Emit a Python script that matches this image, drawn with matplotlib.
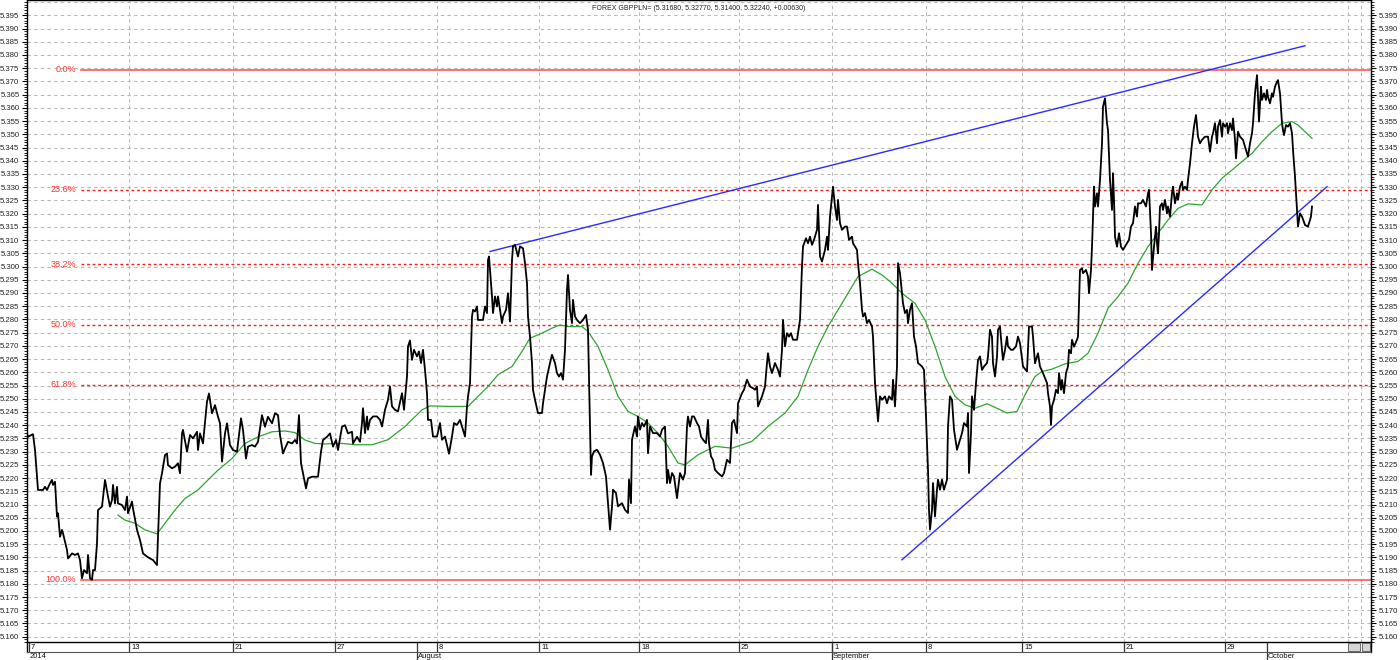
#!/usr/bin/env python3

import matplotlib
matplotlib.use('Agg')
from matplotlib import pyplot
from matplotlib.patches import Rectangle
import numpy as np

pyplot.rcParams['font.family'] = ['Liberation Sans', 'DejaVu Sans']

#### Chart data (bar index, price)

title = 'FOREX GBPPLN= (5.31680, 5.32770, 5.31400, 5.32240, +0.00630)'

price_bar = [
    -1, 0, 5, 7, 10, 15, 17, 19, 22, 24, 25, 27, 29, 30, 32, 34, 35, 39, 40, 44, 47, 50, 52, 54, 56, 59,
    60, 62, 64, 65, 67, 69, 70, 74, 77, 80, 82, 84, 85, 87, 89, 90, 94, 97, 99, 100, 104, 105, 109, 110,
    112, 115, 119, 122, 125, 129, 130, 132, 134, 137, 139, 140, 144, 147, 150, 152, 154, 155, 159, 162,
    165, 169, 170, 172, 175, 179, 181, 184, 187, 190, 192, 194, 197, 199, 202, 205, 209, 210, 213, 215,
    218, 220, 224, 227, 230, 234, 237, 240, 244, 247, 250, 252, 255, 257, 260, 264, 267, 269, 271, 273,
    275, 278, 280, 284, 287, 290, 293, 295, 299, 302, 305, 308, 310, 314, 317, 320, 324, 325, 329, 332,
    334, 335, 337, 339, 340, 342, 345, 349, 352, 354, 357, 360, 362, 364, 367, 370, 374, 376, 379, 380,
    382, 384, 386, 389, 391, 393, 395, 397, 399, 400, 403, 405, 409, 412, 414, 417, 420, 421, 424, 426,
    429, 432, 434, 437, 439, 440, 442, 444, 445, 447, 449, 450, 455, 457, 459, 460, 461, 464, 465, 467,
    469, 470, 472, 474, 475, 478, 480, 482, 484, 485, 487, 490, 492, 495, 497, 499, 500, 502, 504, 505,
    507, 510, 514, 515, 519, 522, 524, 527, 529, 531, 533, 535, 537, 539, 540, 542, 544, 545, 547, 549,
    552, 555, 558, 560, 563, 564, 566, 569, 572, 575, 578, 580, 582, 584, 585, 588, 590, 594, 597, 600,
    601, 603, 604, 607, 609, 610, 612, 614, 616, 619, 620, 622, 625, 629, 632, 634, 637, 639, 640, 642,
    644, 646, 649, 652, 655, 657, 659, 660, 662, 664, 666, 669, 671, 673, 675, 678, 680, 681, 683, 685,
    687, 690, 694, 696, 699, 702, 704, 706, 709, 710, 714, 716, 719, 722, 725, 727, 729, 730, 734, 737,
    739, 740, 742, 744, 747, 750, 752, 754, 755, 757, 759, 761, 763, 765, 769, 772, 774, 775, 778, 780,
    782, 784, 786, 789, 790, 792, 794, 797, 799, 800, 802, 804, 805, 807, 809, 810, 812, 814, 817, 819,
    821, 824, 825, 829, 830, 832, 834, 835, 837, 839, 841, 844, 845, 847, 848, 850, 852, 854, 857, 859,
    861, 864, 865, 867, 869, 870, 872, 874, 875, 877, 879, 880, 882, 884, 886, 888, 890, 894, 896, 898,
    900, 901, 902, 904, 905, 907, 909, 910, 912, 914, 916, 919, 920, 922, 924, 926, 929, 931, 934, 936,
    939, 940, 941, 943, 944, 946, 948, 950, 952, 954, 956, 959, 960, 962, 964, 965, 967, 969, 970, 972,
    974, 975, 977, 979, 980, 983, 985, 988, 990, 992, 995, 999, 1001, 1004, 1005, 1007, 1010, 1012, 1015,
    1019, 1020, 1022, 1023, 1024, 1026, 1028, 1030, 1031, 1033, 1034, 1036, 1038, 1040, 1041, 1043, 1044,
    1046, 1049, 1050, 1052, 1054, 1055, 1058, 1060, 1061, 1063, 1064, 1066, 1067, 1069, 1070, 1072, 1074,
    1075, 1077, 1079, 1080, 1082, 1084, 1085, 1086, 1087, 1089, 1091, 1093, 1095, 1099, 1101, 1103, 1105,
    1107, 1109, 1110, 1113, 1115, 1118, 1120, 1121, 1123, 1124, 1126, 1128, 1129, 1130, 1131, 1132, 1134,
    1135, 1137, 1139, 1140, 1142, 1144, 1145, 1147, 1149, 1150, 1152, 1154, 1155, 1157, 1159, 1160, 1162,
    1164, 1166, 1168, 1170, 1172, 1174, 1177, 1180, 1182, 1184, 1185, 1187, 1189, 1190, 1192, 1194, 1195,
    1197, 1199, 1200, 1202, 1204, 1205, 1207, 1208, 1210, 1212, 1215, 1217, 1220, 1222, 1224, 1225, 1227,
    1229, 1230, 1231, 1233, 1234, 1236, 1238, 1239, 1240, 1242, 1244, 1245, 1247, 1249, 1250, 1252, 1254,
    1255, 1256, 1258, 1260, 1262, 1264, 1265, 1267, 1269, 1270, 1272, 1274, 1277, 1280, 1281, 1283, 1284]

price_close = [
    5.2369, 5.2356, 5.2366, 5.2306, 5.2155, 5.2155, 5.2167, 5.2155, 5.2180, 5.2193, 5.2174, 5.2186, 5.2054,
    5.2067, 5.1978, 5.2004, 5.1991, 5.1928, 5.1896, 5.1915, 5.1909, 5.1915, 5.1890, 5.1821, 5.1852, 5.1840,
    5.1909, 5.1821, 5.1815, 5.1852, 5.1852, 5.1953, 5.2079, 5.2092, 5.2193, 5.2130, 5.2092, 5.2117, 5.2174,
    5.2104, 5.2167, 5.2104, 5.2098, 5.2079, 5.2130, 5.2067, 5.2111, 5.2085, 5.2004, 5.1991, 5.1966, 5.1915,
    5.1903, 5.1896, 5.1890, 5.1871, 5.1978, 5.2180, 5.2218, 5.2287, 5.2293, 5.2249, 5.2237, 5.2243, 5.2256,
    5.2218, 5.2369, 5.2382, 5.2300, 5.2363, 5.2350, 5.2375, 5.2306, 5.2369, 5.2331, 5.2489, 5.2520, 5.2445,
    5.2476, 5.2432, 5.2407, 5.2262, 5.2369, 5.2407, 5.2325, 5.2306, 5.2300, 5.2331, 5.2426, 5.2382, 5.2274,
    5.2319, 5.2325, 5.2319, 5.2337, 5.2438, 5.2394, 5.2432, 5.2407, 5.2445, 5.2438, 5.2363, 5.2293, 5.2312,
    5.2337, 5.2331, 5.2344, 5.2331, 5.2438, 5.2256, 5.2218, 5.2161, 5.2199, 5.2205, 5.2205, 5.2205, 5.2300,
    5.2344, 5.2356, 5.2369, 5.2319, 5.2344, 5.2306, 5.2394, 5.2400, 5.2369, 5.2375, 5.2331, 5.2356, 5.2337,
    5.2408, 5.2464, 5.2370, 5.2433, 5.2383, 5.2420, 5.2433, 5.2433, 5.2420, 5.2395, 5.2458, 5.2496, 5.2546,
    5.2471, 5.2458, 5.2452, 5.2521, 5.2458, 5.2584, 5.2698, 5.2720, 5.2647, 5.2685, 5.2660, 5.2679, 5.2635,
    5.2685, 5.2609, 5.2521, 5.2420, 5.2420, 5.2357, 5.2357, 5.2408, 5.2345, 5.2357, 5.2307, 5.2292, 5.2357,
    5.2408, 5.2401, 5.2420, 5.2395, 5.2357, 5.2471, 5.2509, 5.2559, 5.2811, 5.2836, 5.2830, 5.2849, 5.2798,
    5.2798, 5.2849, 5.2824, 5.3025, 5.3038, 5.2887, 5.2824, 5.2887, 5.2849, 5.2887, 5.2836, 5.2786, 5.2811,
    5.2836, 5.2899, 5.2792, 5.3025, 5.3076, 5.3082, 5.3038, 5.3076, 5.3069, 5.3013, 5.2937, 5.2811, 5.2735,
    5.2635, 5.2534, 5.2496, 5.2446, 5.2446, 5.2483, 5.2584, 5.2635, 5.2666, 5.2635, 5.2597, 5.2584, 5.2597,
    5.2572, 5.2685, 5.2912, 5.2968, 5.2836, 5.2786, 5.2874, 5.2811, 5.2798, 5.2786, 5.2798, 5.2817, 5.2761,
    5.2212, 5.2282, 5.2301, 5.2307, 5.2288, 5.2257, 5.2206, 5.2105, 5.2005, 5.2093, 5.2156, 5.2143, 5.2093,
    5.2105, 5.2080, 5.2068, 5.2194, 5.2105, 5.2345, 5.2395, 5.2357, 5.2433, 5.2383, 5.2408, 5.2395, 5.2420,
    5.2294, 5.2395, 5.2370, 5.2370, 5.2357, 5.2383, 5.2395, 5.2181, 5.2231, 5.2181, 5.2219, 5.2206, 5.2124,
    5.2219, 5.2194, 5.2219, 5.2395, 5.2433, 5.2395, 5.2433, 5.2433, 5.2408, 5.2395, 5.2357, 5.2345, 5.2332,
    5.2420, 5.2332, 5.2282, 5.2269, 5.2231, 5.2219, 5.2206, 5.2219, 5.2269, 5.2257, 5.2408, 5.2420, 5.2370,
    5.2483, 5.2521, 5.2534, 5.2572, 5.2546, 5.2540, 5.2534, 5.2546, 5.2471, 5.2509, 5.2546, 5.2635, 5.2672,
    5.2622, 5.2597, 5.2635, 5.2609, 5.2584, 5.2685, 5.2798, 5.2698, 5.2748, 5.2735, 5.2748, 5.2723, 5.2723,
    5.2798, 5.3000, 5.3076, 5.3107, 5.3088, 5.3113, 5.3082, 5.3101, 5.3139, 5.3233, 5.3038, 5.3019, 5.3063,
    5.3113, 5.3063, 5.3189, 5.3265, 5.3302, 5.3227, 5.3176, 5.3252, 5.3164, 5.3139, 5.3151, 5.3151, 5.3101,
    5.3113, 5.3088, 5.3063, 5.3013, 5.2937, 5.2836, 5.2811, 5.2824, 5.2786, 5.2798, 5.2773, 5.2735, 5.2559,
    5.2509, 5.2414, 5.2509, 5.2496, 5.2509, 5.2483, 5.2509, 5.2496, 5.2572, 5.2471, 5.2622, 5.3013, 5.2975,
    5.2899, 5.2861, 5.2824, 5.2836, 5.2786, 5.2836, 5.2861, 5.2735, 5.2698, 5.2635, 5.2622, 5.2609, 5.2433,
    5.2231, 5.2080, 5.2005, 5.2080, 5.2181, 5.2055, 5.2156, 5.2194, 5.2156, 5.2194, 5.2156, 5.2194, 5.2395,
    5.2509, 5.2496, 5.2383, 5.2307, 5.2332, 5.2370, 5.2408, 5.2395, 5.2446, 5.2219, 5.2370, 5.2509, 5.2458,
    5.2559, 5.2647, 5.2660, 5.2609, 5.2622, 5.2635, 5.2660, 5.2761, 5.2735, 5.2635, 5.2584, 5.2660, 5.2761,
    5.2773, 5.2685, 5.2647, 5.2685, 5.2735, 5.2698, 5.2685, 5.2685, 5.2698, 5.2735, 5.2710, 5.2622, 5.2603,
    5.2773, 5.2773, 5.2735, 5.2634, 5.2672, 5.2622, 5.2597, 5.2559, 5.2521, 5.2471, 5.2401, 5.2471, 5.2496,
    5.2534, 5.2521, 5.2597, 5.2534, 5.2571, 5.2521, 5.2597, 5.2622, 5.2685, 5.2672, 5.2723, 5.2697, 5.2723,
    5.2735, 5.2987, 5.2993, 5.2975, 5.2987, 5.2962, 5.2899, 5.2987, 5.3075, 5.3302, 5.3227, 5.3277, 5.3227,
    5.3327, 5.3466, 5.3605, 5.3636, 5.3542, 5.3516, 5.3327, 5.3214, 5.3353, 5.3252, 5.3113, 5.3075, 5.3126,
    5.3075, 5.3063, 5.3088, 5.3101, 5.3151, 5.3164, 5.3227, 5.3189, 5.3239, 5.3239, 5.3252, 5.3227, 5.3277,
    5.3290, 5.3126, 5.2987, 5.3075, 5.3151, 5.3088, 5.3050, 5.3126, 5.3227, 5.3239, 5.3214, 5.3252, 5.3201,
    5.3227, 5.3189, 5.3277, 5.3302, 5.3239, 5.3277, 5.3252, 5.3302, 5.3321, 5.3290, 5.3302, 5.3290, 5.3327,
    5.3390, 5.3466, 5.3529, 5.3573, 5.3491, 5.3466, 5.3479, 5.3491, 5.3491, 5.3434, 5.3491, 5.3504, 5.3542,
    5.3466, 5.3529, 5.3554, 5.3491, 5.3542, 5.3529, 5.3542, 5.3504, 5.3542, 5.3516, 5.3560, 5.3479, 5.3409,
    5.3510, 5.3491, 5.3479, 5.3453, 5.3416, 5.3466, 5.3504, 5.3542, 5.3655, 5.3724, 5.3642, 5.3548, 5.3680,
    5.3630, 5.3655, 5.3630, 5.3668, 5.3642, 5.3617, 5.3655, 5.3642, 5.3680, 5.3699, 5.3705, 5.3655, 5.3542,
    5.3516, 5.3497, 5.3535, 5.3529, 5.3542, 5.3504, 5.3441, 5.3340, 5.3214, 5.3151, 5.3201, 5.3189, 5.3157,
    5.3151, 5.3164, 5.3189, 5.3227]

ma_bar = [
    90, 97, 107, 117, 129, 137, 147, 157, 170, 180, 190, 204, 217, 230, 244, 257, 267, 277, 287, 297, 314,
    327, 344, 360, 377, 394, 402, 420, 440, 450, 460, 470, 484, 494, 502, 514, 524, 532, 540, 554, 560, 570,
    580, 590, 600, 610, 620, 630, 640, 650, 657, 670, 687, 704, 724, 740, 757, 770, 780, 790, 800, 810, 820,
    830, 844, 854, 864, 874, 887, 897, 907, 917, 927, 937, 947, 959, 969, 979, 989, 997, 1007, 1014, 1024,
    1037, 1050, 1060, 1070, 1080, 1090, 1100, 1110, 1120, 1130, 1140, 1150, 1160, 1174, 1184, 1194, 1204,
    1214, 1224, 1234, 1244, 1254, 1264, 1270, 1277, 1284]

ma_value = [
    5.2060, 5.2041, 5.2029, 5.2004, 5.1989, 5.2029, 5.2079, 5.2123, 5.2155, 5.2193, 5.2230, 5.2274, 5.2331,
    5.2356, 5.2375, 5.2378, 5.2372, 5.2344, 5.2331, 5.2329, 5.2331, 5.2326, 5.2326, 5.2345, 5.2395, 5.2458,
    5.2473, 5.2471, 5.2471, 5.2509, 5.2546, 5.2591, 5.2622, 5.2679, 5.2729, 5.2748, 5.2767, 5.2779, 5.2773,
    5.2773, 5.2754, 5.2698, 5.2609, 5.2509, 5.2452, 5.2433, 5.2408, 5.2370, 5.2320, 5.2257, 5.2250, 5.2288,
    5.2320, 5.2313, 5.2339, 5.2395, 5.2446, 5.2509, 5.2609, 5.2698, 5.2773, 5.2836, 5.2899, 5.2962, 5.2990,
    5.2968, 5.2937, 5.2899, 5.2861, 5.2798, 5.2698, 5.2584, 5.2509, 5.2477, 5.2464, 5.2481, 5.2464, 5.2446,
    5.2452, 5.2515, 5.2584, 5.2603, 5.2612, 5.2632, 5.2641, 5.2672, 5.2748, 5.2842, 5.2886, 5.2937, 5.3012,
    5.3075, 5.3126, 5.3176, 5.3220, 5.3237, 5.3233, 5.3290, 5.3334, 5.3365, 5.3397, 5.3428, 5.3472, 5.3510,
    5.3542, 5.3548, 5.3535, 5.3510, 5.3485]

upper_bar = [462, 1277]
upper_value = [5.3057, 5.3835]
lower_bar = [874, 1299]
lower_value = [5.1891, 5.3302]

fib_high = 5.3745
fib_low = 5.1815
fib_pct = [0.0, 23.6, 38.2, 50.0, 61.8, 100.0]

week_bar = [1, 101, 205, 307, 409, 511, 611, 711, 804, 898, 994, 1096, 1197]
week_label = ['7', '13', '21', '27', '8', '11', '18', '25', '1', '8', '15', '21', '29']
month_bar = [1, 389, 804, 1239]
month_label = ['2014', 'August', 'September', 'October']
spare_grid_bar = [1320, 1333]

#### Setting Plot Format

W, H = 1400, 660
fig = pyplot.figure(figsize=(W / 100, H / 100), dpi=100)
ax = fig.add_axes([27 / W, 18 / H, 1344 / W, 642 / H])

xmin, xmax = -1, 1343
ax.set_xlim(xmin, xmax)
ax.set_ylim(5.158, 5.4008)

# grid
gridStyle = dict(color='#b8b8b8', lw=0.8, ls=(0, (3, 3)), zorder=0)
for v in np.arange(5.160, 5.4001, 0.005):
  ax.axhline(v, **gridStyle)
for b in week_bar[1:] + spare_grid_bar:
  ax.axvline(b, **gridStyle)

# ticks on both sides
yt = np.arange(5.160, 5.3951, 0.005)
ax.set_yticks(yt)
ax.set_yticklabels(['{:.3f}'.format(v) for v in yt])
ax.set_yticks(np.arange(5.158, 5.4001, 0.001), minor=True)
ax.tick_params(axis='y', which='major', length=3.5, width=0.8, labelsize=5.6,
               labelcolor='#222222', left=True, right=True,
               labelleft=True, labelright=True, pad=2)
ax.tick_params(axis='y', which='minor', length=2, width=0.6, left=True, right=True)
ax.set_xticks([])
for s in ax.spines.values():
  s.set_linewidth(1.0)
  s.set_color('#000000')

# fibonacci levels
for p in fib_pct:
  level = fib_high - p / 100.0 * (fib_high - fib_low)
  if p in (0.0, 100.0):
    ax.plot([53, xmax], [level, level], color='#ff5a5a', lw=1.2, zorder=2)
  else:
    ax.plot([53, xmax], [level, level], color='#ff1a1a', lw=1.0,
            ls=(0, (2, 2)), zorder=2)
  ax.text(48, level, '{:.1f}%'.format(p), color='#ff3030', fontsize=6.5,
          ha='right', va='center', zorder=3)

# trend lines
ax.plot(upper_bar, upper_value, color='#2a2aff', lw=1.0, zorder=3)
ax.plot(lower_bar, lower_value, color='#2a2aff', lw=1.0, zorder=3)

# moving average and price
ax.plot(ma_bar, ma_value, color='#2ea52e', lw=0.9, zorder=4)
ax.plot(price_bar, price_close, color='#000000', lw=1.3, zorder=5)

ax.text(0.5, 0.992, title, transform=ax.transAxes, ha='center', va='top',
        fontsize=5, color='#222222', zorder=6)

#### Date band below the chart

band = fig.add_axes([27 / W, 8 / H, 1344 / W, 10 / H])
band.set_xlim(xmin, xmax)
band.set_ylim(0, 1)
band.set_xticks([])
band.set_yticks([])
band.spines['top'].set_visible(False)
band.spines['bottom'].set_color('#555555')
band.spines['bottom'].set_linewidth(0.8)
band.spines['left'].set_linewidth(1.0)
band.spines['right'].set_linewidth(1.0)
band.patch.set_alpha(0)

band.vlines(week_bar, 0, 1, color='#333333', lw=0.9)
for b, lab in zip(week_bar, week_label):
  band.text(b + 2, 0.45, lab, fontsize=5.5, ha='left', va='center', color='#111111')

band.vlines(month_bar[1:], -0.85, 1, color='#333333', lw=0.9, clip_on=False)
for b, lab in zip(month_bar, month_label):
  band.text(b + 1, -0.45, lab, fontsize=5.5, ha='left', va='center',
            color='#111111', clip_on=False)

for b0, b1 in [(spare_grid_bar[0], spare_grid_bar[1] - 1),
               (spare_grid_bar[1] + 1, xmax - 1)]:
  band.add_patch(Rectangle((b0, 0.1), b1 - b0, 0.8, facecolor='#d4d4d4',
                           edgecolor='#555555', lw=0.6))

pyplot.savefig('out.png', dpi=100)
